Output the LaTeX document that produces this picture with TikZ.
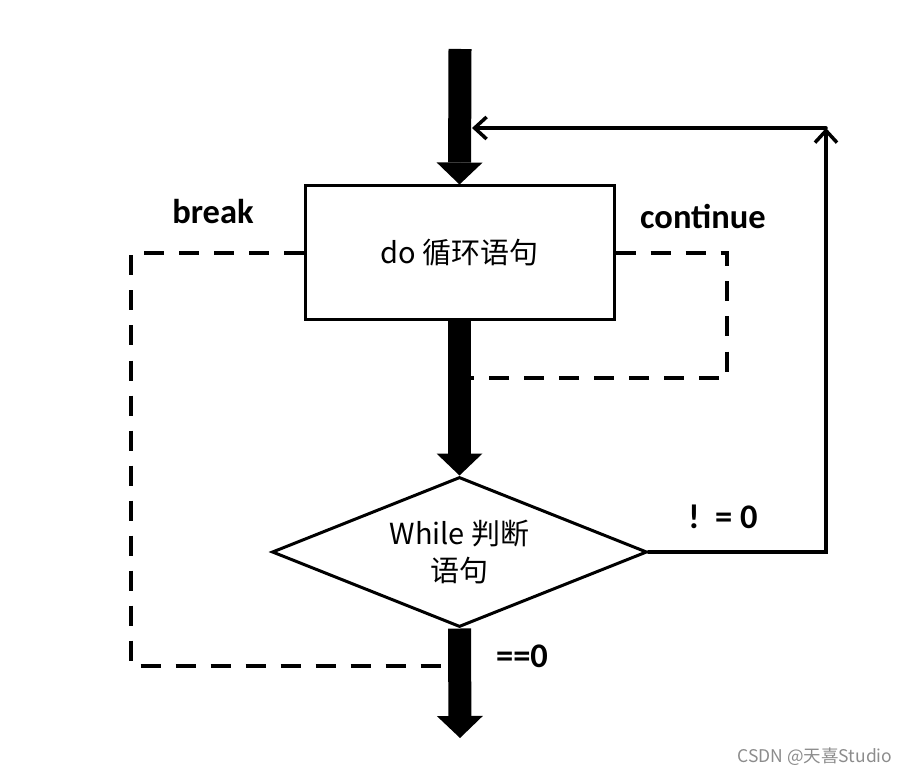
\documentclass[tikz,border=0pt]{standalone}
\usepackage{fontspec}
\setmainfont{Noto Sans CJK SC}
\newfontfamily\lblfont{Carlito}
\usetikzlibrary{arrows.meta,shapes.geometric,positioning}
\definecolor{ink}{HTML}{000000}
\definecolor{mark}{HTML}{8C8C8C}
\newcommand{\Body}{\fontsize{29}{37}\selectfont}
\newcommand{\Tag}{\lblfont\bfseries\fontsize{34.5}{36}\selectfont}

\begin{document}
\begin{tikzpicture}[x=1pt,y=-1pt, font=\Body,
    box/.style={draw=ink,line width=3pt,rectangle,minimum width=309pt,minimum height=134pt,inner sep=0pt},
    cond/.style={draw=ink,line width=3pt,diamond,aspect=2.5,minimum width=375pt,minimum height=150pt,inner sep=0pt,align=center},
    flow/.style={ink,line width=23pt,-{Triangle[length=22pt,width=46pt,line width=0pt]}},
    back/.style={ink,line width=3.5pt,line cap=round,-{Straight Barb[length=12pt,width=22pt]}},
    jump/.style={ink,line width=4pt,dash pattern=on 20pt off 15pt},
    tag/.style={text=ink,font=\Tag,inner sep=0pt}]
  \useasboundingbox (0,0) rectangle (907,775);
  \node[box] (body) at (459.5,253) {do 循环语句};
  \node[cond] (test) at (459.5,552) {While 判断\\语句};
  \coordinate (entry) at (460,49);
  \coordinate (exit) at (460,738);
  \coordinate (turn) at (826,128);
  \coordinate (rejoin) at (472,128);
  \coordinate (brkfoot) at (131,666); \coordinate (brkend) at (449,666);
  \coordinate (cntfoot) at (727,378); \coordinate (cntend) at (471,378);
  % dashed jumps
  \draw[jump] (body.west) -| (brkfoot) -- (brkend);
  \draw[jump] (body.east) -| (cntfoot) -- (cntend);
  % main flow
  \draw[flow] (entry) -- (body.north);
  \draw[flow] (body.south) -- (test.north);
  \draw[flow] (test.south) -- (exit);
  \draw[back] (test.east) -| (turn);
  \draw[back] (turn) -- (rejoin);
  \node[tag] (brk) at (213,212) {break};
  \node[tag] (cnt) at (703,216) {continue};
  \node[tag] (ne) at (723,517) {!\ \ = 0};
  \node[tag] (eq) at (522,656) {==0};
  \node[text=mark,font=\fontsize{17.5}{19}\selectfont] (wm) at (815,757) {CSDN @天喜Studio};
\end{tikzpicture}
\end{document}
